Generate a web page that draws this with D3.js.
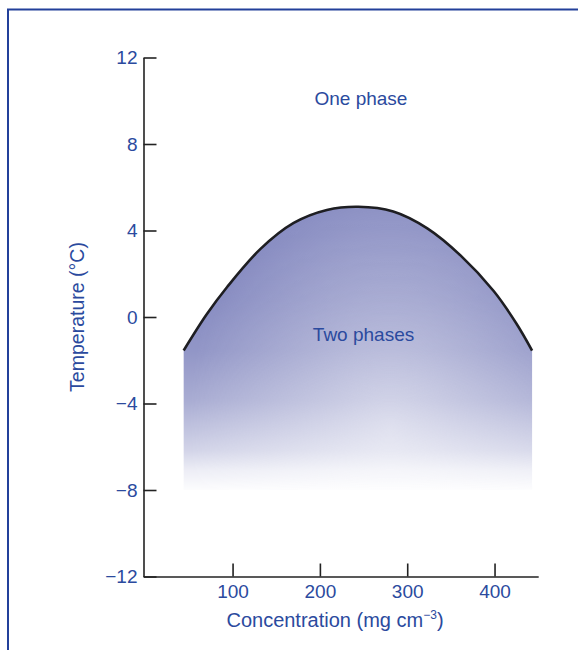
<!DOCTYPE html>
<html>
<head>
<meta charset="utf-8">
<script src="https://cdn.jsdelivr.net/npm/d3@7"></script>
<style>
  html, body { margin: 0; padding: 0; background: #fff; }
  svg { display: block; }
  text { font-family: "Liberation Sans", Arial, sans-serif; fill: #2b4a9e; }
</style>
</head>
<body>
<svg id="chart" width="578" height="650"></svg>
<script>
// Phase boundary (coexistence curve): concentration (mg cm^-3) vs temperature (°C)
const concentration = [44, 70, 94, 132, 170, 208, 244, 284, 323, 361, 399, 425, 443];
const temperature   = [-1.55, 0.1, 1.4, 3.15, 4.35, 4.95, 5.1, 4.88, 4.1, 2.85, 1.2, -0.3, -1.55];
const shadeFloor = -8;              // lower edge of the shaded two-phase region
const xTicks = [100, 200, 300, 400];
const yTicks = [-12, -8, -4, 0, 4, 8, 12];
const regionLabels = ["One phase", "Two phases"];
const regionLabelPos = [[247, 9.8], [250, -1.1]];

const svg = d3.select("#chart");
const blue = "#2b4a9e";
const shadeColor = "#7d82bc";

const x = d3.scaleLinear().domain([-2, 450]).range([143.5, 538.2]);
const y = d3.scaleLinear().domain([-12, 12]).range([576.5, 57.5]);

const pts = concentration.map((c, i) => [c, temperature[i]]);
const curve = d3.curveCatmullRom.alpha(0.5);

// Frame
svg.append("path")
  .attr("d", "M8,650 L8,9.5 L578,9.5")
  .attr("fill", "none").attr("stroke", "#23409a").attr("stroke-width", 2);

const defs = svg.append("defs");

// Blue shading: darker near the edges and the curve, lighter toward the lower middle
const cx = 390, cy = 430, rx = 200, ry = 300;
const rg = defs.append("radialGradient").attr("id", "shade")
  .attr("gradientUnits", "userSpaceOnUse")
  .attr("cx", 0).attr("cy", 0).attr("r", 1)
  .attr("gradientTransform", `translate(${cx},${cy}) scale(${rx},${ry})`);
[[0, 0.5], [0.5, 0.75], [1, 1]].forEach(([o, a]) =>
  rg.append("stop").attr("offset", o).attr("stop-color", shadeColor).attr("stop-opacity", a));

// Vertical fade to white toward the bottom
const lg = defs.append("linearGradient").attr("id", "fade")
  .attr("gradientUnits", "userSpaceOnUse")
  .attr("x1", 0).attr("x2", 0).attr("y1", y(5)).attr("y2", y(shadeFloor));
[[0, 1], [0.33, 0.92], [0.507, 0.84], [0.683, 0.66], [0.86, 0.34], [0.93, 0.14], [1, 0.02]].forEach(([o, v]) =>
  lg.append("stop").attr("offset", o).attr("stop-color", d3.rgb(255 * v, 255 * v, 255 * v).formatHex()));

const mask = defs.append("mask").attr("id", "fadeMask")
  .attr("maskUnits", "userSpaceOnUse")
  .attr("x", 0).attr("y", 0).attr("width", 578).attr("height", 650);
mask.append("rect").attr("x", 0).attr("y", 0).attr("width", 578).attr("height", 650)
  .attr("fill", "url(#fade)");

const area = d3.area()
  .x(d => x(d[0]))
  .y0(y(shadeFloor))
  .y1(d => y(d[1]))
  .curve(curve);

svg.append("path")
  .datum(pts)
  .attr("d", area)
  .attr("fill", "url(#shade)")
  .attr("mask", "url(#fadeMask)");

const line = d3.line()
  .x(d => x(d[0]))
  .y(d => y(d[1]))
  .curve(curve);

svg.append("path")
  .datum(pts)
  .attr("d", line)
  .attr("fill", "none")
  .attr("stroke", "#1e1e22")
  .attr("stroke-width", 2.6);

// Axes
const xAxis = d3.axisBottom(x).tickValues(xTicks).tickSizeInner(-13).tickSizeOuter(0).tickPadding(8);
const yAxis = d3.axisLeft(y).tickValues(yTicks).tickSizeInner(-13).tickSizeOuter(0).tickPadding(6);

const gx = svg.append("g").attr("transform", `translate(0,${y(-12)})`).call(xAxis);
const gy = svg.append("g").attr("transform", `translate(${x(-2)},0)`).call(yAxis);

[gx, gy].forEach(g => {
  g.select(".domain").attr("stroke", "#222").attr("stroke-width", 1.6);
  g.selectAll(".tick line").attr("stroke", "#222").attr("stroke-width", 1.6);
  g.selectAll(".tick text")
    .attr("font-size", 19)
    .attr("font-family", "Liberation Sans, Arial, sans-serif")
    .attr("fill", blue);
});

// Axis titles
const xt = svg.append("text")
  .attr("x", 335).attr("y", 627)
  .attr("text-anchor", "middle")
  .attr("font-size", 20);
xt.append("tspan").text("Concentration (mg cm");
xt.append("tspan").attr("font-size", 12).attr("dy", -8).text("\u22123");
xt.append("tspan").attr("dy", 8).text(")");

svg.append("text")
  .attr("transform", `translate(84,${y(0)}) rotate(-90)`)
  .attr("text-anchor", "middle")
  .attr("font-size", 19.5)
  .text("Temperature (\u00B0C)");

// Region labels
svg.selectAll("text.region")
  .data(regionLabels)
  .join("text")
  .attr("class", "region")
  .attr("x", (d, i) => x(regionLabelPos[i][0]))
  .attr("y", (d, i) => y(regionLabelPos[i][1]))
  .attr("text-anchor", "middle")
  .attr("font-size", 19)
  .text(d => d);
</script>
</body>
</html>
